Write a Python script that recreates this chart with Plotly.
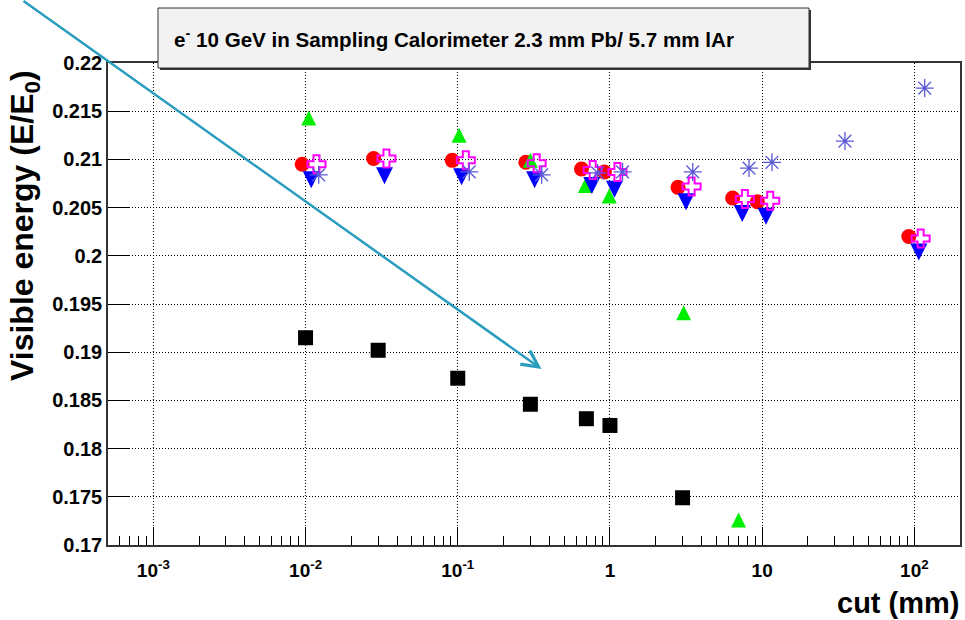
import plotly.graph_objects as go

# ---- data ----
black_x = [0.01, 0.03, 0.1, 0.3, 0.7, 1.0, 3.0]
black_y = [0.1915, 0.1902, 0.1873, 0.1846, 0.1831, 0.1824, 0.1749]

red_x = [0.0095, 0.028, 0.092, 0.28, 0.65, 0.92, 2.8, 6.4, 9.3, 92]
red_y = [0.2095, 0.2101, 0.2099, 0.2097, 0.2090, 0.2087, 0.2071, 0.2060, 0.2056, 0.2020]

green_x = [0.0105, 0.102, 0.30, 0.69, 0.99, 3.05, 7.0]
green_y = [0.2143, 0.2125, 0.2099, 0.2073, 0.2062, 0.1941, 0.1726]

blue_x = [0.0109, 0.033, 0.106, 0.32, 0.76, 1.07, 3.16, 7.4, 10.6, 107]
blue_y = [0.2079, 0.2083, 0.2082, 0.2079, 0.2073, 0.2069, 0.2056, 0.2044, 0.2041, 0.2004]

cross_x = [0.0118, 0.034, 0.113, 0.33, 0.77, 1.12, 3.44, 7.7, 11.3, 110]
cross_y = [0.2095, 0.2101, 0.2099, 0.2096, 0.2089, 0.2087, 0.2072, 0.2059, 0.2057, 0.2018]

star_x = [0.0122, 0.119, 0.356, 0.83, 1.21, 3.5, 8.2, 11.6, 35, 117]
star_y = [0.2084, 0.2087, 0.2084, 0.2086, 0.2087, 0.2087, 0.2091, 0.2097, 0.2119, 0.2174]

x_tickvals = [1e-3, 1e-2, 1e-1, 1, 10, 100]
x_ticktext = ["10<sup>-3</sup>", "10<sup>-2</sup>", "10<sup>-1</sup>", "1", "10", "10<sup>2</sup>"]
y_tickvals = [0.17, 0.175, 0.18, 0.185, 0.19, 0.195, 0.2, 0.205, 0.21, 0.215, 0.22]
y_ticktext = ["0.17", "0.175", "0.18", "0.185", "0.19", "0.195", "0.2", "0.205", "0.21", "0.215", "0.22"]

title_text = "e<sup>-</sup> 10 GeV in Sampling Calorimeter 2.3 mm Pb/ 5.7 mm lAr"
y_title = "Visible energy (E/E<sub>0</sub>)"
x_title = "cut (mm)"

# minor tick positions (2..9 in each decade)
minor_vals = [m * 10 ** e for e in range(-4, 3) for m in range(2, 10)]

FONT = "Liberation Sans, Arial, Helvetica, sans-serif"

fig = go.Figure()
fig.add_trace(go.Scatter(x=black_x, y=black_y, mode="markers",
                         marker=dict(symbol="square", size=15, color="black")))
fig.add_trace(go.Scatter(x=red_x, y=red_y, mode="markers",
                         marker=dict(symbol="circle", size=15, color="#ff0000")))
fig.add_trace(go.Scatter(x=green_x, y=green_y, mode="markers",
                         marker=dict(symbol="arrow-down", size=15, color="#00ee00",
                                     angle=180, standoff=7.5)))
fig.add_trace(go.Scatter(x=blue_x, y=blue_y, mode="markers",
                         marker=dict(symbol="arrow-down", size=17, color="#0000ff",
                                     angle=0, standoff=8.5)))
fig.add_trace(go.Scatter(x=cross_x, y=cross_y, mode="markers",
                         marker=dict(symbol="cross-open", size=15, color="#ff00ff",
                                     line=dict(color="#ff00ff", width=2))))
fig.add_trace(go.Scatter(x=star_x, y=star_y, mode="markers",
                         marker=dict(symbol="asterisk-open", size=15, color="#5a5ad8",
                                     line=dict(color="#5a5ad8", width=1.3))))

W, H = 965, 620
L, R, T, B = 108, 5, 63, 75
pw, ph = W - L - R, H - T - B


def px(xp):
    return (xp - L) / pw


def py(yp):
    return (H - B - yp) / ph


shapes = [
    # title box shadow
    dict(type="rect", xref="paper", yref="paper", x0=px(160), x1=px(811), y0=py(70), y1=py(10),
         fillcolor="#333333", line=dict(width=0), layer="above"),
    # title box
    dict(type="rect", xref="paper", yref="paper", x0=px(158), x1=px(809), y0=py(68), y1=py(8),
         fillcolor="#f2f2f2", line=dict(color="#333333", width=1), layer="above"),
]

annotations = [
    dict(text=title_text, xref="paper", yref="paper", x=px(172), y=py(38), xanchor="left",
         yanchor="middle", showarrow=False,
         font=dict(family=FONT, size=20.6, color="black", weight="bold")),
    dict(text=y_title, xref="paper", yref="paper", x=px(24), y=py(226), xanchor="center",
         yanchor="middle", textangle=-90, showarrow=False,
         font=dict(family=FONT, size=32, color="black", weight="bold")),
    dict(text=x_title, xref="paper", yref="paper", x=px(961), y=py(603), xanchor="right",
         yanchor="middle", showarrow=False,
         font=dict(family=FONT, size=29, color="black", weight="bold")),
    # arrow
    dict(text="", xref="paper", yref="paper", x=px(541.5), y=py(369), ax=22 - 541.5, ay=0 - 369,
         axref="pixel", ayref="pixel", showarrow=True, arrowhead=5, arrowsize=1.3, arrowwidth=2.5,
         arrowcolor="#2a9dbf"),
]

fig.update_layout(
    width=W, height=H,
    margin=dict(l=L, r=R, t=T, b=B, pad=0, autoexpand=False),
    paper_bgcolor="white", plot_bgcolor="white",
    showlegend=False,
    shapes=shapes,
    annotations=annotations,
    font=dict(family=FONT, color="black"),
)

fig.update_xaxes(
    type="log", range=[-3.298, 2.30],
    tickvals=x_tickvals, ticktext=x_ticktext,
    ticks="inside", ticklen=18, tickwidth=1, tickcolor="black",
    showline=True, linecolor="#333333", linewidth=1.5, mirror=True,
    showgrid=True, gridcolor="black", gridwidth=1, griddash="1px,2px",
    zeroline=False, ticklabelstandoff=7,
    tickfont=dict(family=FONT, size=19, color="black", weight="bold"),
    minor=dict(tickvals=minor_vals, ticks="inside", ticklen=9, tickcolor="black", tickwidth=1,
               showgrid=False),
)
fig.update_yaxes(
    range=[0.17, 0.22],
    tickvals=y_tickvals, ticktext=y_ticktext,
    ticks="inside", ticklen=22, tickwidth=1, tickcolor="black",
    showline=True, linecolor="#333333", linewidth=1.5, mirror=True,
    showgrid=True, gridcolor="black", gridwidth=1, griddash="1px,2px",
    zeroline=False,
    tickfont=dict(family=FONT, size=20, color="black", weight="bold"),
)

fig.write_html("out.html", config={"displayModeBar": False},
               post_script="document.body.style.margin='0';document.body.style.overflow='hidden';")
